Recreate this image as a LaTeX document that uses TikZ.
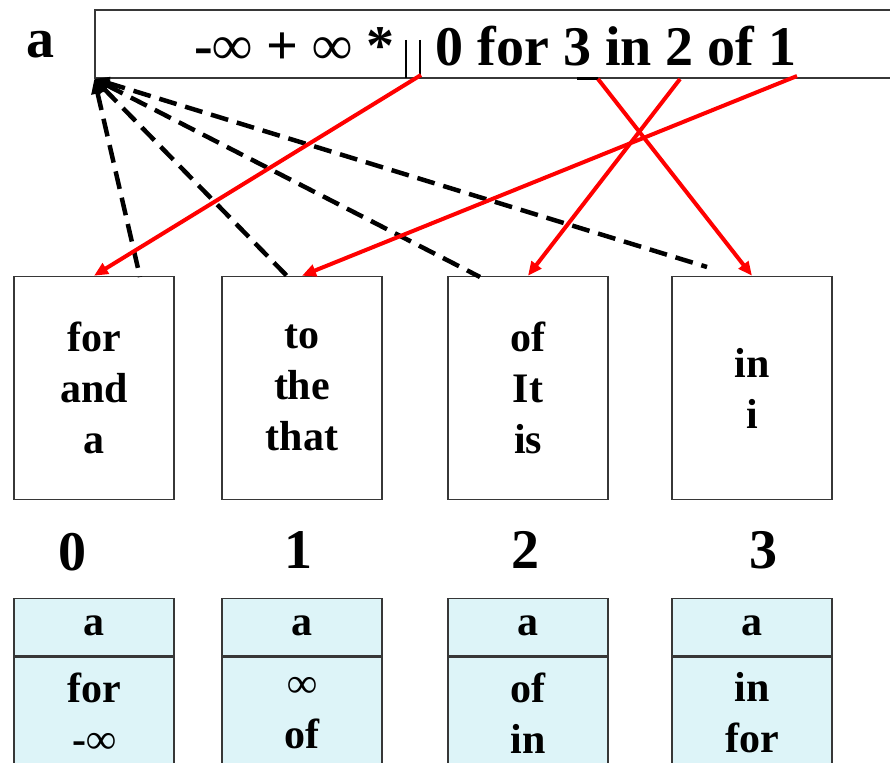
\documentclass[tikz,border=0pt]{standalone}
\usepackage{fontspec}
\setmainfont{Liberation Serif}
\usetikzlibrary{arrows.meta, positioning}
\definecolor{cellblue}{RGB}{221,244,248}
\definecolor{boxgray}{RGB}{55,55,55}
\newcommand{\bigtxt}{\fontsize{56}{60}\selectfont\bfseries}
\newcommand{\celltxt}{\fontsize{42}{51}\selectfont\bfseries}

\begin{document}
\begin{tikzpicture}[x=1pt, y=-1pt,
  bucket/.style={draw=boxgray, line width=1.5pt, minimum width=160pt, minimum height=223pt, align=center, font=\celltxt},
  cell/.style={draw=boxgray, line width=1.5pt, fill=cellblue, minimum width=160pt, align=center, font=\celltxt},
  ptr/.style={-{Triangle[length=14pt, width=12pt]}, red, line width=4pt},
  back/.style={{Triangle[length=15pt, width=12pt]}-, dash pattern=on 18pt off 9pt, line width=4.5pt}]
  \clip (0,0) rectangle (890,762);

  % Suffix array string
  \node[font=\bigtxt] (lbl) at (40,45) {a};
  \node[draw=boxgray, line width=1.5pt, minimum width=810pt, minimum height=68pt] (arr) at (500,44) {};
  \node[font=\bigtxt, anchor=east] (neg) at (398,46) {-∞ + ∞ *};
  \draw[line width=1.5pt] (406,40) -- (406,78);
  \draw[line width=1.5pt] (420,40) -- (420,78);
  \node[font=\bigtxt, anchor=west] (idx) at (432,46) {0 for 3 in 2 of 1};
  \draw[line width=3pt] (577,79) -- (598,79);

  % Pointer start points
  \coordinate (p0) at (421,75);
  \coordinate (p3) at (598,79);
  \coordinate (p2) at (680,79);
  \coordinate (p1) at (797,76);

  % Buckets
  \node[bucket] (b0) at (94,388) {for\\and\\a};
  \node[bucket] (b1) at (302,388) {to\\the\\that};
  \node[bucket] (b2) at (528,388) {of\\It\\is};
  \node[bucket] (b3) at (752,388) {in\\i};

  % Back pointer ends
  \coordinate (d0) at (140,277);
  \coordinate (d1) at (288,277);
  \coordinate (d2) at (480,277);
  \coordinate (d3) at (707,267);

  % Dashed back pointers
  \draw[back] (arr.south west) -- (d0);
  \draw[back] (arr.south west) -- (d1);
  \draw[back] (arr.south west) -- (d2);
  \draw[back] (arr.south west) -- (d3);

  % Red pointers
  \draw[ptr] (p0) -- (b0.north);
  \draw[ptr] (p1) -- (b1.north);
  \draw[ptr] (p2) -- (b2.north);
  \draw[ptr] (p3) -- (b3.north);

  % Bucket numbers
  \node[font=\bigtxt] (n0) at (72,552) {0};
  \node[font=\bigtxt] (n1) at (298,550) {1};
  \node[font=\bigtxt] (n2) at (525,550) {2};
  \node[font=\bigtxt] (n3) at (763,550) {3};

  % Cells below
  \node[cell, minimum height=57pt, text depth=2pt] (h0) at (94,627) {a};
  \node[cell, minimum height=112pt, below=0pt of h0] (c0) {for\\-∞};
  \node[cell, minimum height=57pt, text depth=2pt] (h1) at (302,627) {a};
  \node[cell, minimum height=112pt, below=0pt of h1] (c1) {∞\\of};
  \node[cell, minimum height=57pt, text depth=2pt] (h2) at (528,627) {a};
  \node[cell, minimum height=112pt, below=0pt of h2] (c2) {of\\in};
  \node[cell, minimum height=57pt, text depth=2pt] (h3) at (752,627) {a};
  \node[cell, minimum height=112pt, below=0pt of h3] (c3) {in\\for};
\end{tikzpicture}
\end{document}
